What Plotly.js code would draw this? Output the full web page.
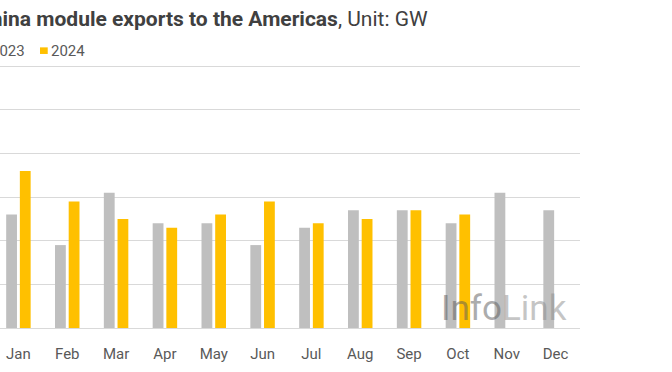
<!DOCTYPE html>
<html>
<head>
<meta charset="utf-8">
<script src="https://cdn.plot.ly/plotly-3.0.1.min.js"></script>
<style>
  html, body { margin: 0; padding: 0; overflow: hidden; width: 672px; height: 372px; background: #fff; }
  #chart { position: absolute; left: -80px; top: 0; width: 752px; height: 372px; }
</style>
</head>
<body>
<div id="chart"></div>
<script>
const months = ['Jan','Feb','Mar','Apr','May','Jun','Jul','Aug','Sep','Oct','Nov','Dec'];
const exports2023 = [2.6, 1.9, 3.1, 2.4, 2.4, 1.9, 2.3, 2.7, 2.7, 2.4, 3.1, 2.7];
const exports2024 = [3.6, 2.9, 2.5, 2.3, 2.6, 2.9, 2.4, 2.5, 2.7, 2.6, null, null];
const yTicks = [0, 1, 2, 3, 4, 5, 6];

const GRAY = '#BFBFBF';
const GOLD = '#FFC000';
const FONT = 'Roboto, "Noto Sans", sans-serif';

const traces = [
  { type: 'bar', name: '2023', x: months, y: exports2023, marker: { color: GRAY }, showlegend: false, hoverinfo: 'x+y+name' },
  { type: 'bar', name: '2024', x: months, y: exports2024, marker: { color: GOLD }, showlegend: false, hoverinfo: 'x+y+name' }
];

const layout = {
  width: 752, height: 372,
  margin: { l: 74, r: 92, t: 64, b: 44 },
  paper_bgcolor: '#fff', plot_bgcolor: '#fff',
  barmode: 'group', bargap: 0.44, bargroupgap: 0.21,
  font: { family: FONT, color: '#595959', size: 15 },
  title: {
    text: '<b>China module exports to the Americas</b>, Unit: GW',
    font: { family: FONT, size: 21, color: '#404040' },
    xref: 'container', x: 57 / 752, xanchor: 'left',
    yref: 'container', y: 1 - 19 / 372, yanchor: 'middle'
  },
  xaxis: {
    type: 'category', range: [-0.5, 11.5], fixedrange: true,
    showgrid: false, zeroline: false, showline: false, ticks: '',
    ticklabelstandoff: 15,
    tickfont: { family: FONT, size: 15, color: '#595959' }
  },
  yaxis: {
    range: [0, 6.05], tickvals: yTicks, fixedrange: true,
    showgrid: true, gridcolor: '#D9D9D9', gridwidth: 1,
    zeroline: true, zerolinecolor: '#D9D9D9', zerolinewidth: 1,
    showline: false, ticks: '', showticklabels: false
  },
  shapes: [
    { type: 'rect', xref: 'paper', yref: 'paper', x0: -0.0227, x1: -0.0096, y0: 1.038, y1: 1.063, fillcolor: GRAY, line: { width: 0 } },
    { type: 'rect', xref: 'paper', yref: 'paper', x0: 0.0785, x1: 0.0917, y0: 1.038, y1: 1.063, fillcolor: GOLD, line: { width: 0 } }
  ],
  annotations: [
    { xref: 'paper', yref: 'paper', x: -0.0078, y: 1.051, xanchor: 'left', yanchor: 'middle', showarrow: false,
      text: '2023', font: { family: FONT, size: 15, color: '#595959' } },
    { xref: 'paper', yref: 'paper', x: 0.0932, y: 1.051, xanchor: 'left', yanchor: 'middle', showarrow: false,
      text: '2024', font: { family: FONT, size: 15, color: '#595959' } },
    { xref: 'paper', yref: 'paper', x: 0.871, y: 0.0755, xanchor: 'center', yanchor: 'middle', showarrow: false,
      text: '<span style="color:rgba(90,90,90,0.5)">Info</span><span style="color:rgba(140,140,140,0.5)">Link</span>',
      font: { family: FONT, size: 35 } }
  ]
};

Plotly.newPlot('chart', traces, layout, { displayModeBar: false, staticPlot: true });
</script>
</body>
</html>
